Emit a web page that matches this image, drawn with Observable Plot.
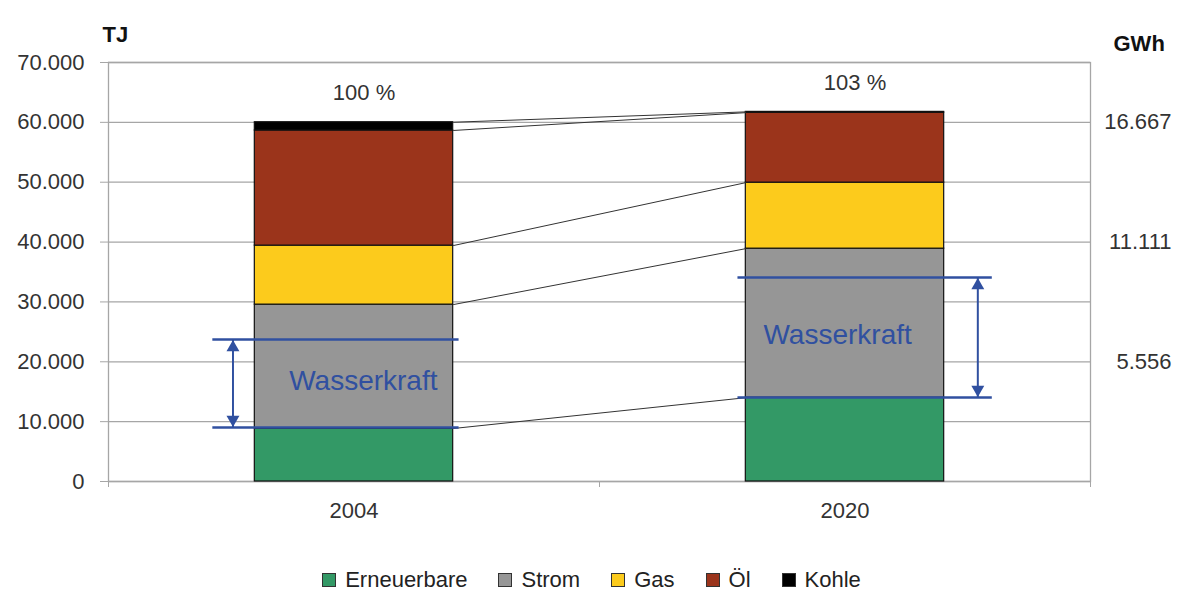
<!DOCTYPE html>
<html>
<head>
<meta charset="utf-8">
<script src="https://cdn.jsdelivr.net/npm/d3@7"></script>
<script src="https://cdn.jsdelivr.net/npm/@observablehq/plot@0.6"></script>
<style>
  body { margin: 0; background: #fff; font-family: "Liberation Sans", Arial, sans-serif; }
  #chart svg { display: block; }
  #legend { display: flex; justify-content: center; align-items: center; gap: 31px;
            height: 26px; margin-top: 7px; font-size: 22px; color: #222; }
  #legend .item { display: flex; align-items: center; }
  #legend .sw { width: 12px; height: 12px; border: 1px solid #333; margin-right: 9px; }
</style>
</head>
<body>
<div id="chart"></div>
<div id="legend"></div>
<script>
// ---- data ----
const years = ["2004", "2020"];
const sources = ["Erneuerbare", "Strom", "Gas", "Öl", "Kohle"];
const colors = ["#339966", "#969696", "#fccb1c", "#9b341b", "#000000"];
const erneuerbare = [8850, 14000];
const strom = [20700, 24900];
const gas = [9860, 11030];
const oel = [19230, 11690];
const kohle = [1380, 130];
const percentLabels = ["100 %", "103 %"];
const wasserLow = [9020, 14030];
const wasserHigh = [23720, 34080];
const yTicks = [0, 10000, 20000, 30000, 40000, 50000, 60000, 70000];
const gwhTicks = [20000, 40000, 60000];
const leftUnit = "TJ";
const rightUnit = "GWh";
const wasserLabel = "Wasserkraft";

// ---- layout constants (style) ----
const BAR = 0.404;                 // bar width as fraction of category band
const BLUE = "#3050a0";
const GRID = "#a6a6a6";
// Wasserkraft marker geometry relative to bar (band units)
const wLineLeft = [-0.0855, -0.016];   // extension beyond bar left edge
const wLineRight = [0.012, 0.098];     // extension beyond bar right edge
const wArrowX = [-0.2465, 0.2705];     // arrow position relative to bar center
const wTextDx = [0.019, -0.015];

const de = d3.formatLocale({decimal: ",", thousands: ".", grouping: [3], currency: ["", "€"]});
const fmt = de.format(",d");

// ---- derived tables ----
const series = [erneuerbare, strom, gas, oel, kohle];
const segments = [];
const cumTops = years.map(() => []);
const totals = [];
years.forEach((year, i) => {
  let acc = 0;
  sources.forEach((s, k) => {
    const v = series[k][i];
    segments.push({year, i, source: s, y1: acc, y2: acc + v});
    acc += v;
    cumTops[i].push(acc);
  });
  totals.push({i, total: acc, label: percentLabels[i]});
});
const connectors = sources.map((s, k) => ({a: cumTops[0][k], b: cumTops[1][k]}));
const wasser = years.map((y, i) => ({i, lo: wasserLow[i], hi: wasserHigh[i]}));
const wasserLines = wasser.flatMap(d => [{i: d.i, v: d.lo}, {i: d.i, v: d.hi}]);

const center = i => i + 0.5;
const arrowX = d => center(d.i) + wArrowX[d.i];

const plot = Plot.plot({
  width: 1183,
  height: 560,
  marginLeft: 108,
  marginRight: 93,
  marginTop: 62,
  marginBottom: 79,
  style: {fontSize: "22px", fontFamily: "'Liberation Sans', Arial, sans-serif", color: "#333", background: "#fff"},
  x: {domain: [0, years.length], label: null},
  y: {domain: [0, 70000], label: null},
  color: {domain: sources, range: colors},
  marks: [
    Plot.gridY(yTicks, {stroke: GRID, strokeOpacity: 1, strokeWidth: 1.3}),
    Plot.frame({stroke: GRID, strokeWidth: 1.3}),
    Plot.axisY({ticks: yTicks, anchor: "left", tickSize: 8, tickPadding: 16, tickFormat: fmt, stroke: GRID, fill: "#333"}),
    Plot.axisY({ticks: gwhTicks, anchor: "right", tickSize: 0, tickPadding: 81, textAnchor: "end",
                tickFormat: d => fmt(Math.round(d / 3.6)), fill: "#333"}),
    Plot.axisX({ticks: d3.range(years.length + 1), tickSize: 6, tickFormat: () => "", stroke: GRID}),
    Plot.axisX({ticks: years.map((_, i) => center(i)), tickSize: 0, tickPadding: 21,
                tickFormat: d => years[Math.floor(d)], fill: "#333"}),
    Plot.rect(segments, {
      x1: d => center(d.i) - BAR / 2, x2: d => center(d.i) + BAR / 2,
      y1: "y1", y2: "y2", fill: "source", stroke: "#111", strokeWidth: 1.2
    }),
    Plot.link(connectors, {
      x1: () => center(0) + BAR / 2, x2: () => center(1) - BAR / 2,
      y1: "a", y2: "b", stroke: "#333", strokeWidth: 1
    }),
    Plot.text(totals, {x: d => center(d.i), y: "total", text: "label", dy: -29, dx: 10, fill: "#333"}),
    Plot.ruleY(wasserLines, {
      y: "v",
      x1: d => center(d.i) - BAR / 2 + wLineLeft[d.i],
      x2: d => center(d.i) + BAR / 2 + wLineRight[d.i],
      stroke: BLUE, strokeWidth: 2.5
    }),
    Plot.link(wasser, {x1: arrowX, x2: arrowX, y1: "lo", y2: "hi", stroke: BLUE, strokeWidth: 2}),
    Plot.dot(wasser, {x: arrowX, y: "hi", symbol: "triangle", r: 4.8, fill: BLUE, stroke: null, dy: 8}),
    Plot.dot(wasser, {x: arrowX, y: "lo", symbol: "triangle", r: 4.8, fill: BLUE, stroke: null, dy: -8, rotate: 180}),
    Plot.text(wasser, {x: d => center(d.i) + wTextDx[d.i], y: d => (d.lo + d.hi) / 2, text: () => wasserLabel,
                       fill: BLUE, fontSize: 28, dy: -2}),
    Plot.text([leftUnit], {frameAnchor: "top-left", text: d => d, textAnchor: "start", dx: -6, dy: -36, fontWeight: "bold", fill: "#111"}),
    Plot.text([rightUnit], {frameAnchor: "top-right", text: d => d, textAnchor: "start", dx: 23, dy: -27, fontWeight: "bold", fill: "#111"})
  ]
});
document.getElementById("chart").appendChild(plot);

// legend
const legend = document.getElementById("legend");
sources.forEach((s, k) => {
  const item = document.createElement("div");
  item.className = "item";
  const sw = document.createElement("span");
  sw.className = "sw";
  sw.style.background = colors[k];
  const t = document.createElement("span");
  t.textContent = s;
  item.appendChild(sw);
  item.appendChild(t);
  legend.appendChild(item);
});
</script>
</body>
</html>
